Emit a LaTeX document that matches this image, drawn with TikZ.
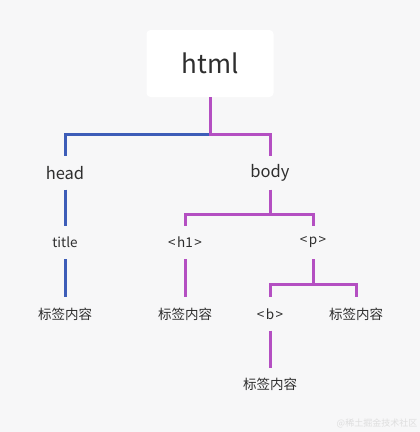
\documentclass[tikz,border=0pt]{standalone}
\usepackage{fontspec}
\setmainfont{Noto Sans CJK SC}
\usepackage{tikz}
\definecolor{pagebg}{HTML}{F7F7F8}
\definecolor{headblue}{HTML}{3D5DB8}
\definecolor{bodypurple}{HTML}{B44FC2}
\definecolor{inktext}{HTML}{2E2E2E}
\begin{document}
\begin{tikzpicture}[x=1pt, y=-1pt,
		tag/.style={text=inktext, minimum height=33pt, inner sep=0pt, font=\fontsize{13.5}{15}\selectfont},
		bigtag/.style={tag, font=\fontsize{16.5}{18}\selectfont},
		bl/.style={draw=headblue, line width=3pt},
		pu/.style={draw=bodypurple, line width=3pt}]
				\fill[pagebg] (0, 0) rectangle (420, 432);
				\useasboundingbox (0, 0) rectangle (420, 432);
				% root box
				\node[fill=white, rounded corners=4pt, minimum width=127pt, minimum height=67pt, text=inktext, font=\fontsize{26}{30}\selectfont] (html) at (210, 63.5) {html};
				\node[bigtag] (head) at (65, 173) {head};
				\node[bigtag] (body) at (270, 173) {body};
				\node[tag] (title) at (65, 242.5) {title};
				\node[tag] (h1) at (185, 242.5) {<\kern1.5pt h1\kern1.5pt>};
				\node[tag] (p) at (313, 242.5) {<\kern1.5pt p\kern1.5pt>};
				\node[tag] (txt1) at (65, 314) {标签内容};
				\node[tag] (txt2) at (185, 314) {标签内容};
				\node[tag] (b) at (270, 314) {<\kern1.5pt b\kern1.5pt>};
				\node[tag] (txt3) at (356, 314) {标签内容};
				\node[tag] (txt4) at (270, 384.5) {标签内容};
				\node[text=black!13, inner sep=0pt, font=\fontsize{9}{10}\selectfont] (mark) at (377, 423) {@稀土掘金技术社区};
				% junctions
				\coordinate (j1) at (210, 134);
				\coordinate (j2) at (270, 214);
				\coordinate (j3) at (313, 284);
				% head branch in blue, body branch in purple
				\draw[bl] (j1) -| (head.north);
				\draw[bl] (head.south) -- (title.north);
				\draw[bl] (title.south) -- (txt1.north);
				\draw[pu] (html.south) -- (j1) -| (body.north);
				\draw[pu] (body.south) -- (j2) -| (h1.north);
				\draw[pu] (j2) -| (p.north);
				\draw[pu] (h1.south) -- (txt2.north);
				\draw[pu] (p.south) -- (j3) -| (b.north);
				\draw[pu] (j3) -| (txt3.north);
				\draw[pu] (b.south) -- (txt4.north);
			\end{tikzpicture}
\end{document}
